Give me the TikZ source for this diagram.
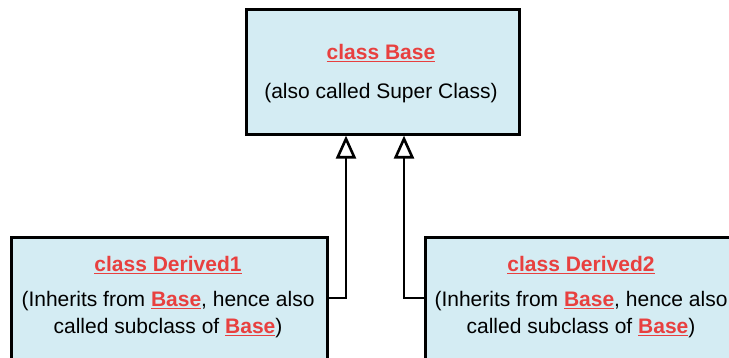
\documentclass[tikz,border=0pt]{standalone}
\usepackage{fontspec}
\setmainfont{Liberation Sans}
\usetikzlibrary{arrows.meta}
\definecolor{boxfill}{RGB}{212,236,243}
\definecolor{redtxt}{RGB}{232,64,63}
\newcommand{\rul}[1]{\textcolor{redtxt}{\textbf{\underline{#1}}}}
\begin{document}
\begin{tikzpicture}[x=1pt,y=-1pt,
  classbox/.style={draw=black, line width=2.6pt, fill=boxfill, rectangle, inner sep=0pt},
  txt/.style={font=\fontsize{21}{27}\selectfont, align=center, inner sep=0pt, anchor=base},
  inherit/.style={line width=2.8pt, -{Triangle[open, width=20pt, length=23pt, line width=2.6pt]}}]
\useasboundingbox (0,0) rectangle (729,358);
\clip (0,0) rectangle (729,358);
\node[classbox, minimum width=273pt, minimum height=125pt, anchor=north west] (base) at (245,8) {};
\node[classbox, minimum width=316pt, minimum height=160pt, anchor=north west] (d1) at (10,236) {};
\node[classbox, minimum width=330pt, minimum height=160pt, anchor=north west] (d2) at (424,236) {};
\node[txt] (bt) at (381,60) {\rul{class Base}};
\node[txt] (bs) at (381,99) {(also called Super Class)};
\node[txt] (d1t) at (168,272) {\rul{class Derived1}};
\node[txt] (d1s) at (168,334) {(Inherits from \rul{Base}, hence also\\called subclass of \rul{Base})};
\node[txt] (d2t) at (581,272) {\rul{class Derived2}};
\node[txt] (d2s) at (581,334) {(Inherits from \rul{Base}, hence also\\called subclass of \rul{Base})};
\coordinate (c1) at (346,298);
\coordinate (c2) at (404,298);
\draw[inherit] (d1.east |- c1) -| (base.south -| c1);
\draw[inherit] (d2.west |- c2) -| (base.south -| c2);
\end{tikzpicture}
\end{document}
